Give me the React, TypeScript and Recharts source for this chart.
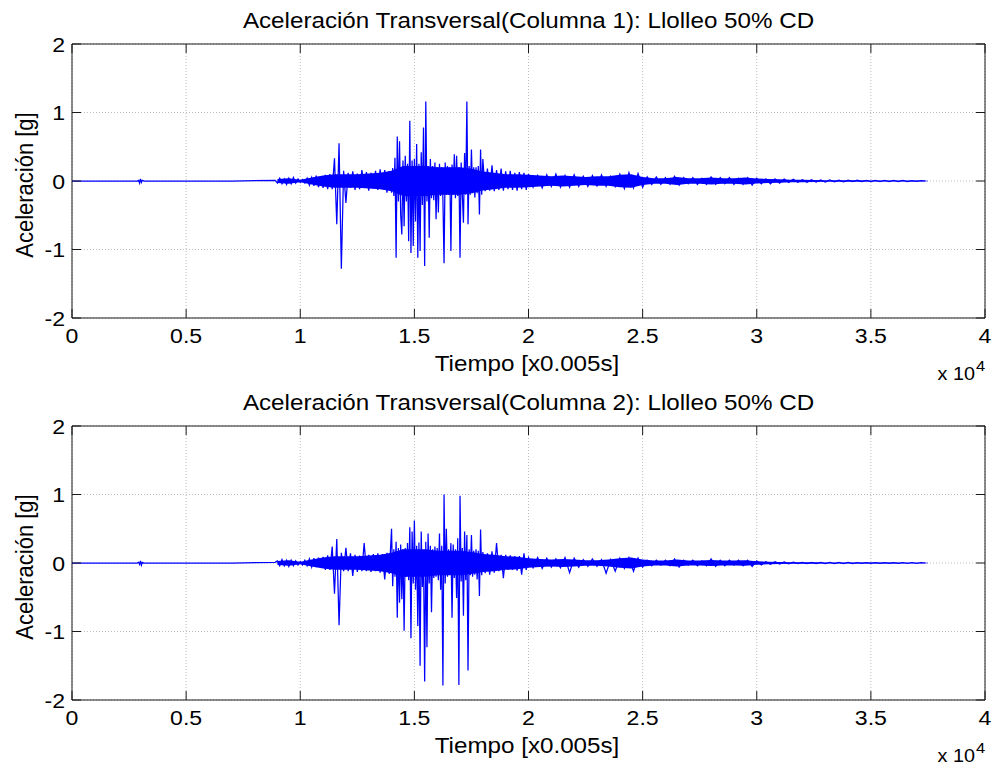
import { ComposedChart, Line, Area, XAxis, YAxis, CartesianGrid, ReferenceArea } from "recharts";

// sample index axis (x 10^4) and acceleration axis
const xTicks = [0, 5000, 10000, 15000, 20000, 25000, 30000, 35000, 40000];
const xTickLabels = ["0", "0.5", "1", "1.5", "2", "2.5", "3", "3.5", "4"];
const yTicks = [-2, -1, 0, 1, 2];

// quiet lead-in before the strong motion
const quietT = [0, 1000, 2000, 2850, 2920, 2960, 3000, 3040, 3080, 3150, 5000, 7000, 8900];
const quiet1 = [0, 0, 0, 0, 0.01, -0.03, 0.03, -0.02, 0.01, 0, 0, 0, 0.01];
const quiet2 = [0, 0, 0, 0, 0.01, -0.02, 0.03, -0.03, 0.01, 0, 0, 0, 0.01];

// record segments: first sample and sample spacing
const segStart = [9000, 14000, 18000, 20000];
const segStep = [100, 50, 100, 200];

// Columna 1
const col1A = [
  -0.03, 0.04, -0.04, 0.03, -0.05, 0.04, -0.04, 0.05, -0.03, 0.03,
  -0.02, 0.02, -0.03, 0.04, -0.06, 0.05, -0.07, 0.08, -0.09, 0.07,
  -0.1, 0.09, -0.12, 0.1, -0.12, 0.33, -0.63, 0.55, -1.28, 0.15,
  -0.32, 0.12, -0.1, 0.14, -0.13, 0.11, -0.12, 0.16, -0.1, 0.13,
  -0.14, 0.12, -0.11, 0.15, -0.13, 0.17, -0.12, 0.16, -0.17, 0.14,
];
const col1B = [
  -0.17, 0.19, -0.22, 0.34, -1.12, 0.65, -0.3, 0.58, -0.49, -0.78,
  0.3, -0.66, 0.37, -0.3, 0.25, -0.88, 0.88, -1.05, 0.3, -0.95,
  0.32, -0.59, 0.54, -1.12, 0.25, -1.02, 0.42, -0.35, 0.78, -1.24,
  1.16, -0.3, 0.22, -0.83, 0.32, -0.25, 0.22, -0.28, 0.27, -0.56,
  0.2, -0.46, 0.25, -0.22, 0.2, -0.25, -1.2, 0.27, -0.2, 0.22,
  -0.2, 0.2, -1.02, 0.24, -0.2, 0.39, -0.25, 0.37, -0.22, 0.2,
  -1.12, 0.27, -0.2, -0.61, 0.41, -0.2, 1.16, -0.63, 0.22, -0.2,
  0.46, -0.18, 0.2, -0.24, 0.2, -0.18, 0.22, -0.49, 0.46, -0.2,
];
const col1C = [
  0.32, -0.15, 0.18, -0.14, 0.23, -0.15, 0.16, -0.13, 0.18, -0.14,
  0.14, -0.12, 0.15, -0.13, 0.12, -0.14, 0.13, -0.12, 0.12, -0.13,
];
const col1D = [
  0.1, -0.09, 0.08, -0.1, 0.09, -0.08, 0.1, -0.09, 0.08, -0.09,
  0.09, -0.08, 0.07, -0.08, 0.08, -0.07, 0.09, -0.08, 0.07, -0.08,
  0.1, -0.11, 0.12, -0.1, 0.11, -0.09, 0.06, -0.05, 0.06, -0.05,
  0.05, -0.05, 0.07, -0.06, 0.05, -0.04, 0.05, -0.05, 0.04, -0.05,
  0.06, -0.05, 0.05, -0.04, 0.05, -0.05, 0.04, -0.05, 0.05, -0.06,
  0.04, -0.04, 0.03, -0.04, 0.03, -0.03, 0.03, -0.02, 0.025, -0.02,
  0.02, -0.02, 0.02, -0.015, 0.015, -0.015, 0.015, -0.012, 0.012, -0.012,
  0.012, -0.01, 0.012, -0.01, 0.01, -0.01, 0.01, -0.01, 0.01, -0.008,
  0.008, -0.008, 0.008, -0.008, 0.006, -0.006, 0.005, 0,
];

// Columna 2
const col2A = [
  0.03, -0.04, 0.05, -0.04, 0.04, -0.05, 0.04, -0.04, 0.03, -0.03,
  0.02, -0.03, 0.04, -0.04, 0.06, -0.06, 0.07, -0.06, 0.08, -0.07,
  0.09, -0.1, 0.11, -0.1, 0.24, -0.45, 0.35, -0.91, 0.15, -0.12,
  0.22, -0.12, 0.14, -0.19, 0.12, -0.13, 0.11, -0.12, 0.29, -0.12,
  0.12, -0.13, 0.13, -0.12, 0.14, -0.14, 0.13, -0.24, 0.15, -0.16,
];
const col2B = [
  0.5, -0.34, 0.2, -0.2, 0.31, -0.8, 0.22, -0.58, 0.27, -0.53,
  0.2, -0.99, 0.22, -0.2, 0.29, -0.25, 0.52, -1.1, 0.46, -0.3,
  0.62, -0.39, 0.25, -0.92, 0.3, -1.5, 0.46, -0.35, 0.15, -1.73,
  0.31, -1.23, 0.43, -0.3, 0.25, -0.72, 0.2, -0.22, 0.24, -0.2,
  0.22, -0.25, 0.43, -0.39, 0.25, -1.79, 1.0, -0.3, 0.5, -0.2,
  0.2, -0.17, 0.29, -0.8, 0.27, -0.22, 0.2, -0.51, 0.36, -1.78,
  0.98, -0.27, 0.22, -0.77, 0.46, -0.25, 0.41, -1.57, 0.2, -0.18,
  0.41, -0.2, 0.18, -0.17, 0.2, -0.24, 0.18, -0.48, 0.49, -0.18,
];
const col2C = [
  0.16, -0.15, 0.14, -0.17, 0.17, -0.14, 0.29, -0.12, 0.12, -0.22,
  0.12, -0.1, 0.11, -0.1, 0.1, -0.11, 0.1, -0.17, 0.14, -0.1,
];
const col2D = [
  0.08, -0.07, 0.08, -0.08, 0.07, -0.06, 0.06, -0.07, 0.08, -0.14,
  0.07, -0.06, 0.05, -0.05, 0.06, -0.05, 0.05, -0.15, 0.05, -0.12,
  0.07, -0.08, 0.08, -0.12, 0.07, -0.06, 0.04, -0.04, 0.04, -0.03,
  0.04, -0.04, 0.06, -0.06, 0.04, -0.03, 0.04, -0.04, 0.03, -0.04,
  0.06, -0.05, 0.04, -0.04, 0.04, -0.03, 0.04, -0.04, 0.04, -0.05,
  0.03, -0.03, 0.02, -0.02, 0.02, -0.015, 0.015, -0.012, 0.012, -0.01,
  0.01, -0.01, 0.01, -0.01, 0.01, -0.008, 0.008, -0.008, 0.008, -0.008,
  0.008, -0.008, 0.007, -0.007, 0.007, -0.006, 0.006, -0.006, 0.006, -0.006,
  0.006, -0.005, 0.005, -0.005, 0.005, -0.004, 0.004, 0,
];

// dense core of the record (half-width of the solid band), every 500 samples from 9000
const bandStart = 9000;
const bandStep = 500;
const band1 = [
  0.03, 0.04, 0.02, 0.05, 0.08, 0.1, 0.1, 0.1, 0.11, 0.12,
  0.15, 0.22, 0.22, 0.22, 0.2, 0.2, 0.2, 0.18, 0.14, 0.12,
  0.1, 0.1, 0.09, 0.08, 0.07, 0.08, 0.07, 0.06, 0.07, 0.07,
  0.09, 0.1, 0.06, 0.04, 0.04, 0.06, 0.04, 0.04, 0.05, 0.04,
  0.04, 0.05, 0.035, 0.03, 0.025, 0.02, 0.018, 0.015, 0.012, 0.01,
  0.01, 0.01, 0.009, 0.008, 0.008, 0.007, 0.006, 0.005,
];
const band2 = [
  0.03, 0.04, 0.02, 0.05, 0.08, 0.1, 0.1, 0.1, 0.11, 0.12,
  0.15, 0.2, 0.2, 0.2, 0.18, 0.18, 0.18, 0.16, 0.13, 0.12,
  0.1, 0.09, 0.07, 0.06, 0.05, 0.06, 0.05, 0.04, 0.04, 0.05,
  0.07, 0.08, 0.05, 0.035, 0.035, 0.05, 0.035, 0.035, 0.045, 0.035,
  0.035, 0.04, 0.025, 0.02, 0.015, 0.012, 0.01, 0.01, 0.008, 0.008,
  0.007, 0.007, 0.007, 0.006, 0.006, 0.005, 0.005, 0.004,
];

function buildRows(quiet: number[], segs: number[][]) {
  const rows = quietT.map((t, i) => ({ t, a: quiet[i] }));
  segs.forEach((vals, s) => {
    vals.forEach((a, i) => rows.push({ t: segStart[s] + segStep[s] * i, a }));
  });
  return rows;
}

function buildBand(amp: number[]) {
  return amp.map((h, i) => ({ t: bandStart + bandStep * i, r: [-h, h] }));
}

const data1 = buildRows(quiet1, [col1A, col1B, col1C, col1D]);
const data2 = buildRows(quiet2, [col2A, col2B, col2C, col2D]);
const bandRows1 = buildBand(band1);
const bandRows2 = buildBand(band2);

const W = 997;
const H = 384;
const PLOT_W = 913;
const PLOT_H = 274;
const TICK = 9;
const FONT = "'Liberation Sans', Arial, Helvetica, sans-serif";
const INK = "#1a1a1a";
const BLUE = "#0000ff";

const XTick = (props: any) => {
  const { x, y, payload } = props;
  const idx = xTicks.indexOf(payload.value);
  return (
    <g>
      <line x1={x} x2={x} y1={y} y2={y - TICK} stroke={INK} />
      <line x1={x} x2={x} y1={y - PLOT_H} y2={y - PLOT_H + TICK} stroke={INK} />
      <text
        transform={`translate(${x},${y + 25}) scale(1.1,1)`}
        textAnchor="middle"
        fontSize={21}
        fontFamily={FONT}
        fill="#000"
      >
        {xTickLabels[idx]}
      </text>
    </g>
  );
};

const YTick = (props: any) => {
  const { x, y, payload } = props;
  return (
    <g>
      <line x1={x} x2={x + TICK} y1={y} y2={y} stroke={INK} />
      <line x1={x + PLOT_W - TICK} x2={x + PLOT_W} y1={y} y2={y} stroke={INK} />
      <text
        transform={`translate(${x - 7},${y + 7.5}) scale(1.1,1)`}
        textAnchor="end"
        fontSize={21}
        fontFamily={FONT}
        fill="#000"
      >
        {String(payload.value)}
      </text>
    </g>
  );
};

type Row = { t: number; a: number };
type BandRow = { t: number; r: number[] };

function Panel({ data, band, top, mTop }: { data: Row[]; band: BandRow[]; top: number; mTop: number }) {
  return (
    <div style={{ position: "absolute", left: 0, top, width: W, height: H }}>
      <ComposedChart
        width={W}
        height={H}
        data={data}
        margin={{ top: mTop, right: W - 72 - PLOT_W, left: 12, bottom: H - mTop - PLOT_H - 30 }}
      >
        <CartesianGrid stroke="#bdbdbd" strokeDasharray="1 2" />
        <XAxis
          type="number"
          dataKey="t"
          domain={[0, 40000]}
          ticks={xTicks}
          interval={0}
          allowDataOverflow
          axisLine={false}
          tickLine={false}
          tickSize={0}
          tickMargin={0}
          height={30}
          tick={<XTick />}
        />
        <YAxis
          type="number"
          domain={[-2, 2]}
          ticks={yTicks}
          interval={0}
          allowDataOverflow
          axisLine={false}
          tickLine={false}
          tickSize={0}
          tickMargin={0}
          width={60}
          tick={<YTick />}
        />
        <Area
          data={band}
          type="linear"
          dataKey="r"
          stroke="none"
          fill={BLUE}
          fillOpacity={1}
          isAnimationActive={false}
          activeDot={false}
        />
        <Line
          type="linear"
          dataKey="a"
          stroke={BLUE}
          strokeWidth={1.25}
          dot={false}
          activeDot={false}
          isAnimationActive={false}
        />
        <ReferenceArea
          x1={0}
          x2={40000}
          y1={-2}
          y2={2}
          fill="none"
          stroke={INK}
          strokeWidth={1}
          ifOverflow="visible"
        />
      </ComposedChart>
    </div>
  );
}

const titles = [
  "Aceleración Transversal(Columna 1): Llolleo 50% CD",
  "Aceleración Transversal(Columna 2): Llolleo 50% CD",
];

export default function App() {
  const offsets = [0, 382];
  return (
    <div
      style={{
        position: "absolute",
        left: 0,
        top: 0,
        width: W,
        height: 768,
        background: "#fff",
        overflow: "hidden",
      }}
    >
      <Panel data={data1} band={bandRows1} top={0} mTop={44} />
      <Panel data={data2} band={bandRows2} top={384} mTop={42} />
      <svg
        width={W}
        height={768}
        style={{ position: "absolute", left: 0, top: 0, pointerEvents: "none" }}
        fontFamily={FONT}
      >
        {offsets.map((dy, i) => (
          <g key={i}>
            <text transform={`translate(528.5,${27.5 + dy}) scale(1.1,1)`} textAnchor="middle" fontSize={22}>
              {titles[i]}
            </text>
            <text transform={`translate(527,${371 + dy}) scale(1.1,1)`} textAnchor="middle" fontSize={22}>
              Tiempo [x0.005s]
            </text>
            <text transform={`translate(975,${380 + dy}) scale(1.1,1)`} textAnchor="end" fontSize={18}>
              x 10
            </text>
            <text transform={`translate(976,${371 + dy}) scale(1.1,1)`} textAnchor="start" fontSize={15}>
              4
            </text>
            <text
              transform={`translate(33,${185 + dy}) scale(1.1,1) rotate(-90)`}
              textAnchor="middle"
              fontSize={22}
            >
              Aceleración [g]
            </text>
          </g>
        ))}
      </svg>
    </div>
  );
}
